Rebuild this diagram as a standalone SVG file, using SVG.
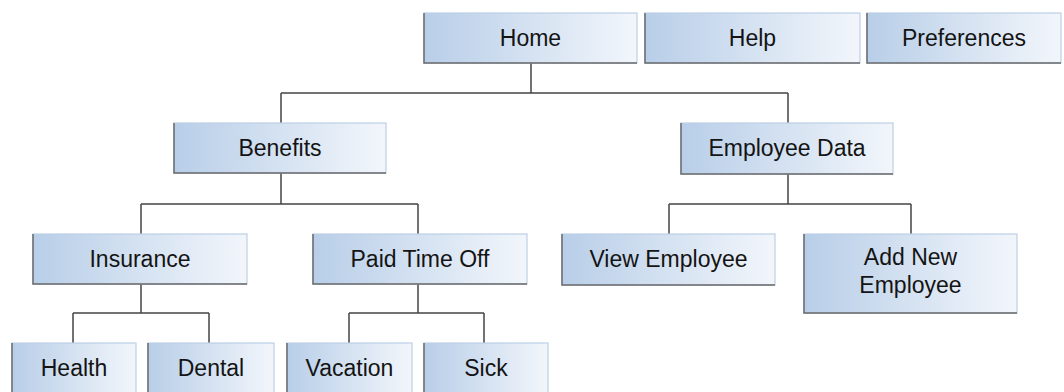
<svg xmlns="http://www.w3.org/2000/svg" width="1064" height="392" viewBox="0 0 1064 392">
<style>
.box{fill:url(#g);stroke:#bccfe6;stroke-width:1.2}
.sh{fill:none;stroke:#6a6a6a;stroke-width:1.5}
.t{font-family:"Liberation Sans",Arial,sans-serif;font-size:23px;fill:#141414;text-anchor:middle}
.c{fill:none;stroke:#444;stroke-width:1.5}
</style>
<defs>
<linearGradient id="g" x1="0" y1="0" x2="1" y2="0">
<stop offset="0" stop-color="#b8cee8"/>
<stop offset="1" stop-color="#f2f6fb"/>
</linearGradient>
</defs>
<rect width="1064" height="392" fill="#fff"/>
<g id="connectors">
<path class="c" d="M531 63V93M281 93H788M281 93V123M788 93V123"/>
<path class="c" d="M281 173V204M141 204H418M141 204V234M418 204V234"/>
<path class="c" d="M788 174V204M669 204H911M669 204V234M911 204V234"/>
<path class="c" d="M141 284V313M73 313H209M73 313V343M209 313V343"/>
<path class="c" d="M418 284V313M349 313H484M349 313V343M484 313V343"/>
</g>
<g id="home"><rect class="box" x="424" y="13" width="213" height="50"/><path class="sh" d="M424 13V63H637"/><text class="t" x="530.5" y="46">Home</text></g>
<g id="help"><rect class="box" x="645" y="13" width="215" height="50"/><path class="sh" d="M645 13V63H860"/><text class="t" x="752.5" y="46">Help</text></g>
<g id="preferences"><rect class="box" x="867" y="13" width="194" height="50"/><path class="sh" d="M867 13V63H1061"/><text class="t" x="964" y="46">Preferences</text></g>
<g id="benefits"><rect class="box" x="174" y="123" width="212" height="50"/><path class="sh" d="M174 123V173H386"/><text class="t" x="280" y="156">Benefits</text></g>
<g id="employee-data"><rect class="box" x="681" y="123" width="212" height="51"/><path class="sh" d="M681 123V174H893"/><text class="t" x="787" y="156">Employee Data</text></g>
<g id="insurance"><rect class="box" x="33" y="234" width="214" height="50"/><path class="sh" d="M33 234V284H247"/><text class="t" x="140" y="267">Insurance</text></g>
<g id="paid-time-off"><rect class="box" x="313" y="234" width="214" height="50"/><path class="sh" d="M313 234V284H527"/><text class="t" x="420" y="267">Paid Time Off</text></g>
<g id="view-employee"><rect class="box" x="562" y="234" width="213" height="51"/><path class="sh" d="M562 234V285H775"/><text class="t" x="668.5" y="267">View Employee</text></g>
<g id="add-new-employee"><rect class="box" x="804" y="234" width="213" height="79"/><path class="sh" d="M804 234V313H1017"/><text class="t" x="910.5" y="265">Add New</text><text class="t" x="910.5" y="293">Employee</text></g>
<g id="health"><rect class="box" x="12" y="343" width="124" height="55"/><path class="sh" d="M12 343V398"/><text class="t" x="74" y="376">Health</text></g>
<g id="dental"><rect class="box" x="148" y="343" width="126" height="55"/><path class="sh" d="M148 343V398"/><text class="t" x="211" y="376">Dental</text></g>
<g id="vacation"><rect class="box" x="287" y="343" width="125" height="55"/><path class="sh" d="M287 343V398"/><text class="t" x="349.5" y="376">Vacation</text></g>
<g id="sick"><rect class="box" x="424" y="343" width="124" height="55"/><path class="sh" d="M424 343V398"/><text class="t" x="486" y="376">Sick</text></g>
</svg>
